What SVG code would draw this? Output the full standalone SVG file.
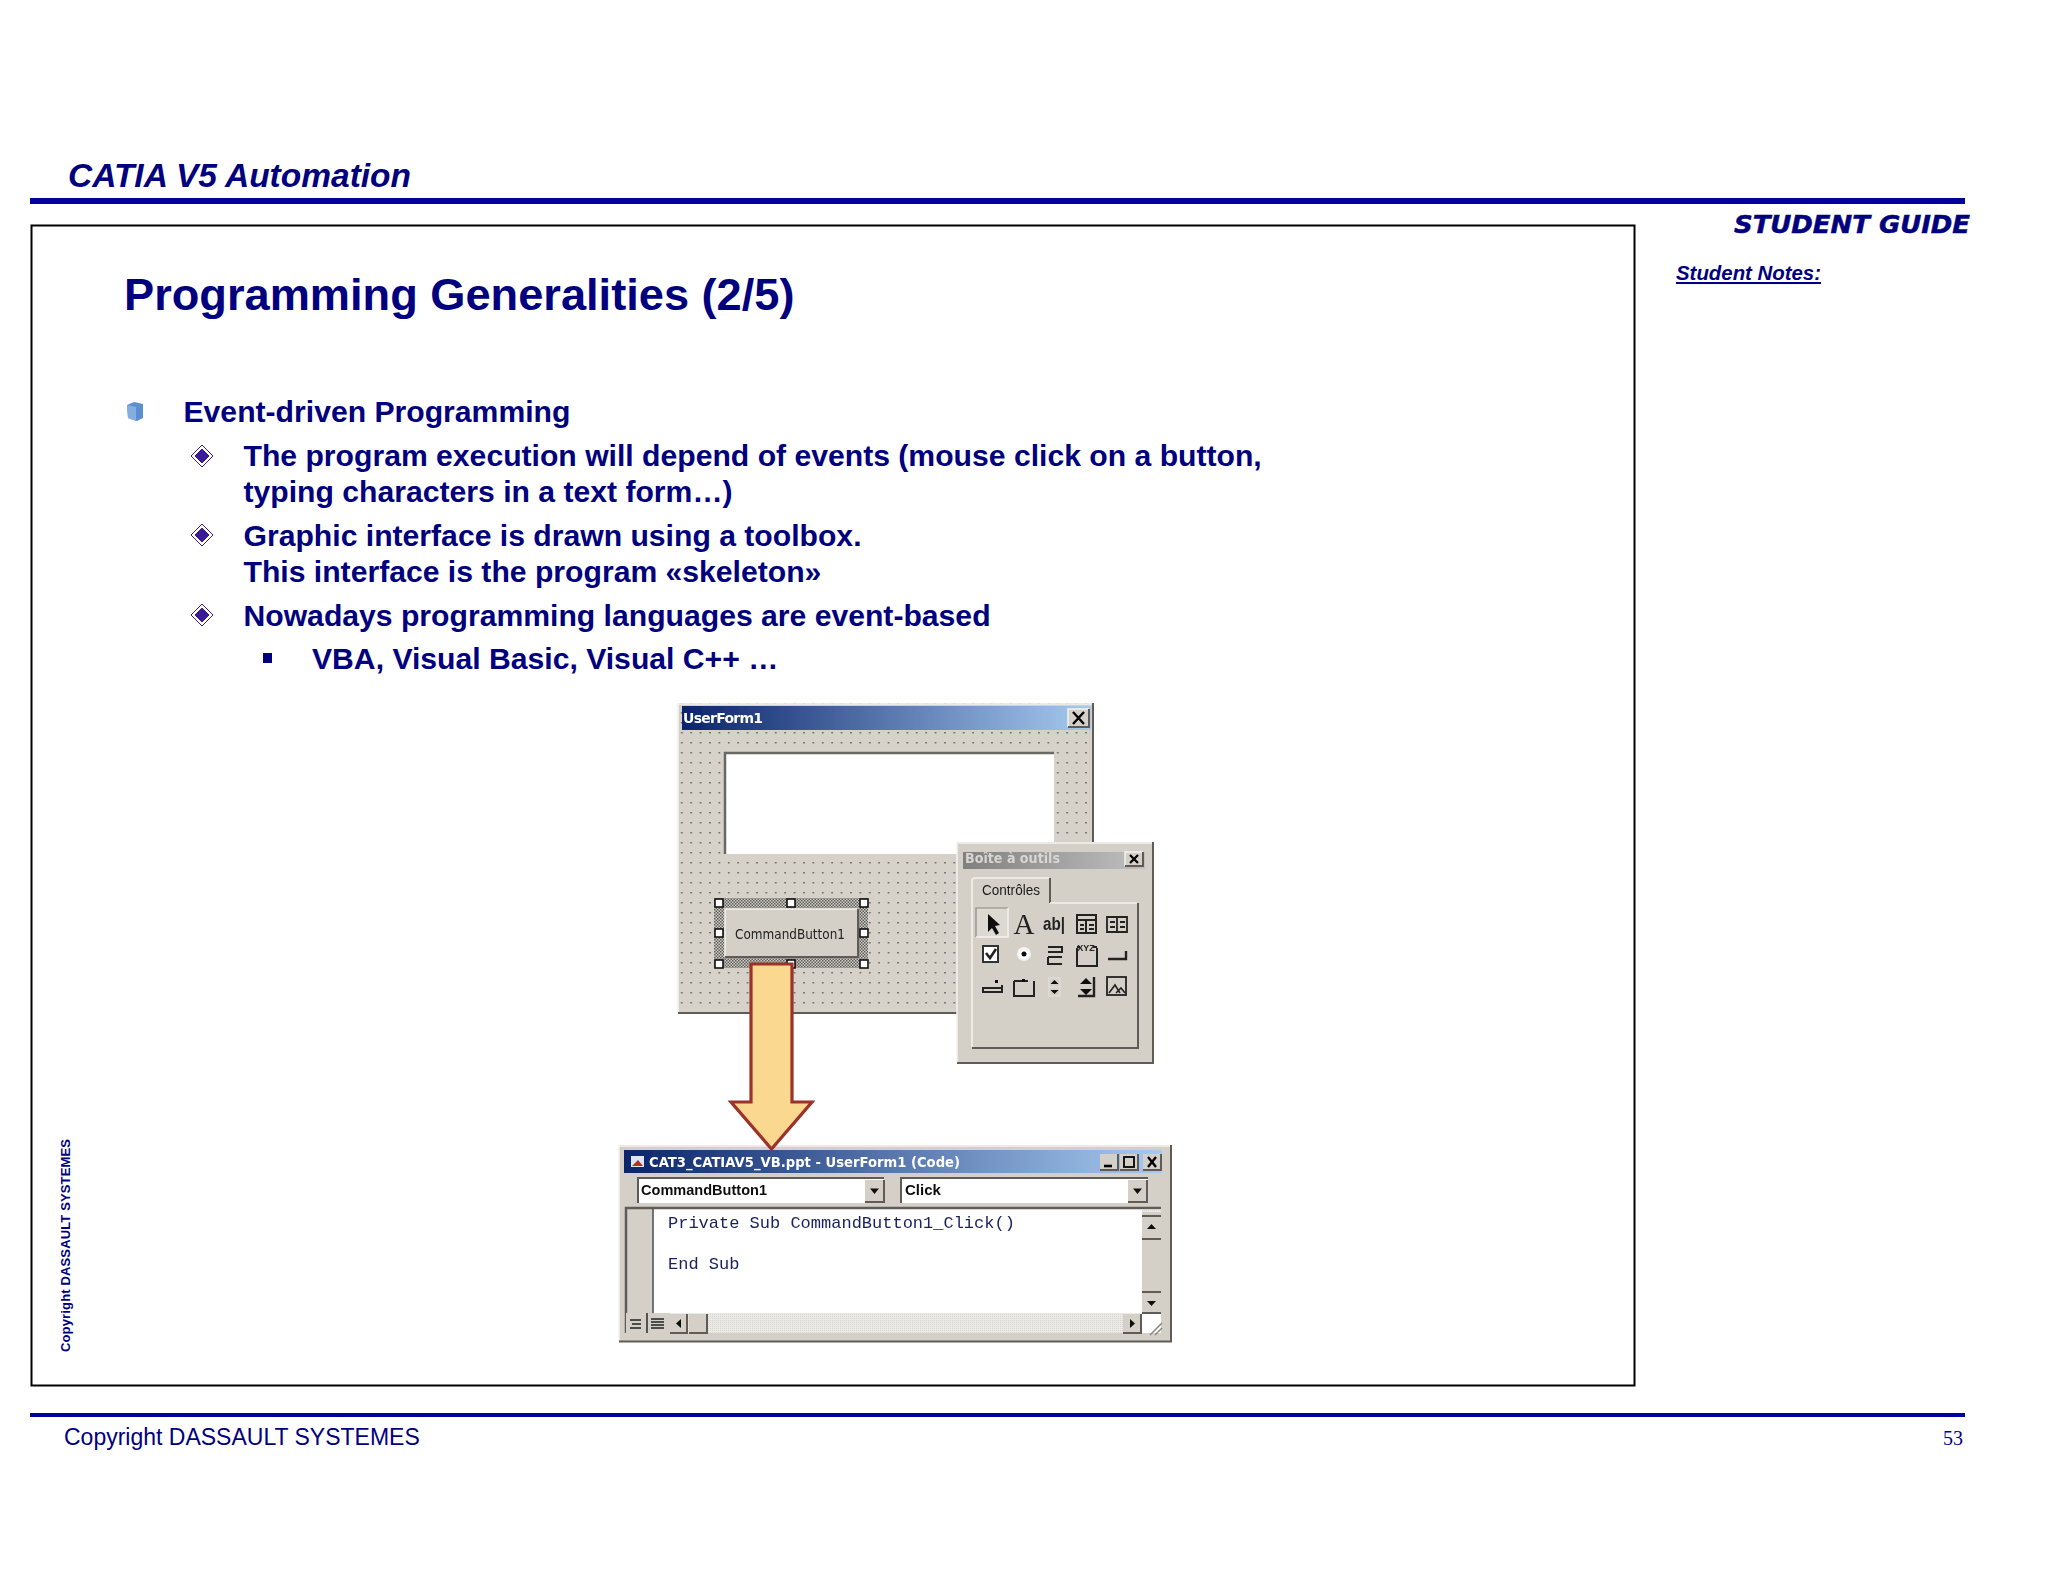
<svg xmlns="http://www.w3.org/2000/svg" width="2048" height="1582" viewBox="0 0 2048 1582">
<style>
text{font-family:"Liberation Sans",Arial,sans-serif}
.n{fill:#00007e;font-weight:700}
.b{font-size:30.150px}
.ui{font-family:"DejaVu Sans",sans-serif;font-weight:700}
.tb{font-size:15px;fill:#1c1c1c}
.code{font-family:"Liberation Mono",monospace;font-size:17px;fill:#1e2460}
.face{fill:#d4d0c8}
.hi{fill:none;stroke:#f4f2ee;stroke-width:1.5}
.lo{fill:none;stroke:#5f5c58;stroke-width:2}
.dk{fill:none;stroke:#333;stroke-width:1.6}
.ic{fill:none;stroke:#222;stroke-width:1.6}
.h{fill:#fff;stroke:#111;stroke-width:1.6}
.w{fill:#fff}
.shot{filter:url(#soft)}
</style>
<defs>
<filter id="soft" x="-2%" y="-2%" width="104%" height="104%"><feGaussianBlur stdDeviation="0.45"/></filter>
<pattern id="dots" width="9.4" height="10" patternUnits="userSpaceOnUse" x="678" y="709">
<rect width="9.4" height="10" fill="#d6d2ca"/><rect x="3" y="3" width="1.5" height="1.5" fill="#605e5a"/>
</pattern>
<pattern id="hatch" width="3" height="3" patternUnits="userSpaceOnUse">
<rect width="3" height="3" fill="#d0cdc6"/><rect width="1.500" height="1.500" fill="#5f5d59"/><rect x="1.500" y="1.500" width="1.500" height="1.500" fill="#5f5d59"/>
</pattern>
<pattern id="sb" width="2" height="2" patternUnits="userSpaceOnUse"><rect width="2" height="2" fill="#eceae6"/><rect width="1" height="1" fill="#d8d5cf"/></pattern>
<linearGradient id="tg1"><stop offset="0" stop-color="#0a246a"/><stop offset="1" stop-color="#a6caf0"/></linearGradient>
<linearGradient id="tg2"><stop offset="0" stop-color="#808080"/><stop offset="1" stop-color="#c0c0c0"/></linearGradient>
<path id="tri" d="M-4.500-2.500H4.500L0 3Z" fill="#111"/>
</defs>

<g id="header">
<text x="68" y="187" font-size="33.500" font-style="italic" font-weight="700" fill="#00007e">CATIA V5 Automation</text>
<rect x="30" y="198" width="1935" height="6" fill="#00009a"/>
<text x="1734" y="233" font-size="24" font-style="italic" font-weight="700" fill="#00007e" stroke="#00007e" stroke-width="0.5" style="font-family:'DejaVu Sans',sans-serif" textLength="236" lengthAdjust="spacingAndGlyphs">STUDENT GUIDE</text>
<text x="1676" y="280" font-size="20.400" font-style="italic" font-weight="700" fill="#00007e" text-decoration="underline">Student Notes:</text>
</g>

<rect id="slide-frame" x="31.500" y="225.500" width="1603" height="1160" fill="none" stroke="#000" stroke-width="2"/>

<g id="slide-text">
<text class="n" x="124" y="309.500" font-size="45.200">Programming Generalities (2/5)</text>
<text class="n b" x="183.500" y="422">Event-driven Programming</text>
<text class="n b" x="243.500" y="465.500">The program execution will depend of events (mouse click on a button,</text>
<text class="n b" x="243.500" y="501.500">typing characters in a text form…)</text>
<text class="n b" x="243.500" y="545.500">Graphic interface is drawn using a toolbox.</text>
<text class="n b" x="243.500" y="581.500">This interface is the program «skeleton»</text>
<text class="n b" x="243.500" y="625.500">Nowadays programming languages are event-based</text>
<text class="n b" x="312" y="669">VBA, Visual Basic, Visual C++ …</text>
</g>

<g id="bullets">
<path d="M127 405L134 402 143 404V418L137 421 128 418Z" fill="#5b8fd0"/><path d="M127 405L136 407V421L128 418Z" fill="#85aee0"/>
<g fill="#3c1c96" stroke="#fff" stroke-width="1">
<path d="M202 445L213 456 202 467 191 456Z" stroke="#3c1c96" fill="#fff"/><path d="M202 448L210 456 202 464 194 456Z"/>
<path d="M202 524L213 535 202 546 191 535Z" stroke="#3c1c96" fill="#fff"/><path d="M202 527L210 535 202 543 194 535Z"/>
<path d="M202 604L213 615 202 626 191 615Z" stroke="#3c1c96" fill="#fff"/><path d="M202 607L210 615 202 623 194 615Z"/>
</g>
<rect x="263" y="653" width="9" height="10" fill="#00007e"/>
</g>

<g id="userform" class="shot">
<rect x="678" y="703" width="415" height="311" fill="url(#dots)"/>
<path class="hi" d="M678 1013V704H1092"/><path class="lo" d="M678 1013H1093V703"/>
<rect x="682" y="706" width="409" height="24" fill="url(#tg1)"/>
<text class="ui" x="683" y="723" font-size="14" fill="#fff" textLength="80">UserForm1</text>
<rect x="1068" y="709" width="21" height="18" class="face"/><path class="hi" d="M1068 727V709H1089"/><path class="lo" d="M1068 727H1089V709"/>
<path d="M1073 712L1084 724M1084 712L1073 724" stroke="#000" stroke-width="2.400" fill="none"/>
<rect x="725" y="753" width="329" height="101" class="w"/>
<path d="M725 854V753H1054" fill="none" stroke="#6a6864" stroke-width="2.500"/>
<rect x="714" y="898" width="154" height="70" fill="url(#hatch)"/>
<rect x="725" y="909" width="133" height="48" class="face"/><path class="hi" d="M725 957V909H858"/><path class="lo" d="M725 957H858V909"/>
<text class="ui" x="735" y="939" font-size="14" style="font-weight:400" fill="#222" textLength="110" lengthAdjust="spacingAndGlyphs">CommandButton1</text>
<g>
<rect class="h" x="715" y="899" width="8" height="8"/><rect class="h" x="787" y="899" width="8" height="8"/><rect class="h" x="860" y="899" width="8" height="8"/>
<rect class="h" x="715" y="929" width="8" height="8"/><rect class="h" x="860" y="929" width="8" height="8"/>
<rect class="h" x="715" y="960" width="8" height="8"/><rect class="h" x="787" y="960" width="8" height="8"/><rect class="h" x="860" y="960" width="8" height="8"/>
</g>
</g>

<g id="toolbox" class="shot" transform="translate(-2 0)">
<rect x="959" y="842" width="196" height="221" class="face"/>
<path class="hi" d="M959 1062V843H1154"/><path class="lo" d="M959 1063H1155V842"/>
<rect x="965" y="852" width="182" height="17" fill="url(#tg2)"/>
<text class="ui" x="967" y="863" font-size="13.500" fill="#d8d6d0" textLength="95" lengthAdjust="spacingAndGlyphs">Boîte à outils</text>
<rect x="1127" y="852" width="18" height="14" class="face"/><path class="hi" d="M1127 866V852H1145"/><path class="lo" d="M1127 866H1145V852"/>
<path d="M1132 855L1140 863M1140 855L1132 863" stroke="#000" stroke-width="2.200"/>
<path class="hi" d="M974 1047V881Q974 878 977 878H1051"/>
<path class="lo" d="M1052 878V903"/>
<path class="hi" d="M1052 903H1139"/>
<path class="lo" d="M974 1048H1140V903"/>
<text class="tb" style="font-family:'Liberation Sans',sans-serif" x="984" y="895" textLength="58" lengthAdjust="spacingAndGlyphs">Contrôles</text>
<rect x="978" y="908" width="32" height="29" fill="#dcd9d2"/><path d="M978 937V908H1010" fill="none" stroke="#8a8781" stroke-width="1.200"/><path class="hi" d="M978 937H1010V908"/>
<path d="M990 914V932L994 928 998 935 1001 933 997 926 1002 925Z" fill="#111"/>
<text x="1026" y="934" font-size="29" text-anchor="middle" style="font-family:'Liberation Serif',serif" fill="#222">A</text>
<text x="1056" y="930" font-size="19" font-weight="700" text-anchor="middle" fill="#222" textLength="22" lengthAdjust="spacingAndGlyphs">ab|</text>
<g class="ic">
<path d="M1079 915H1098V933H1079ZM1079 920H1098M1088 920V933M1082 925H1086M1082 929H1086M1091 925H1096M1091 929H1096" stroke-width="2"/>
<path d="M1109 917H1129V932H1109ZM1119 917V932M1112 922H1117M1112 927H1117M1122 922H1127M1122 927H1127" stroke-width="1.800"/>
<rect x="985" y="946" width="15" height="16" fill="#fff" stroke="#333" stroke-width="2"/><path d="M988 953L992 958 998 949" stroke-width="2.600"/>
<circle cx="1026" cy="954" r="6" stroke="#f4f2ee" stroke-width="2" fill="#fff"/>
<path d="M1050 947H1064V952H1050M1050 957H1064M1050 957V964H1064" stroke-width="2"/>
<path d="M1079 948V966H1099V948M1095 947H1099M1079 947H1082" stroke-width="2"/>
<path d="M1110 959H1128V951" stroke-width="2.400"/>
<path d="M985 987V992H1004V985M985 988H1004" stroke-width="2"/>
<path d="M1016 981V996H1036V981M1016 981H1030" stroke-width="2"/>
<path d="M1051 978H1062V996H1051ZM1051 987H1062" stroke="#dedbd5"/>
<path d="M1096 977V996H1080" stroke-width="2.400"/>
<rect x="1109" y="977" width="19" height="18" stroke-width="1.800"/>
<path d="M1111 993L1117 985 1122 993M1118 993L1123 988 1127 993"/>
</g>
<circle cx="1026" cy="954" r="2.500" fill="#111"/>
<text x="1088" y="951" font-size="9" font-weight="700" text-anchor="middle" fill="#222">XYZ</text>
<path d="M1056.500 980l-4 4h8ZM1056.500 994l-4-4h8ZM1088 978l-6 6h12ZM1088 995l-6-6h12ZM1000 983h-3v-3h3ZM1027 979h-3v3h3Z" fill="#111"/>
</g>

<g id="code-window" class="shot">
<rect x="619" y="1145" width="552" height="197" class="face"/>
<path class="hi" d="M619 1341V1146H1170"/><path class="lo" d="M619 1341.500H1171V1145"/>
<rect x="624" y="1150" width="538" height="23" fill="url(#tg1)"/>
<rect x="631" y="1156" width="13" height="11" fill="#dfe6f2"/><path d="M632 1166L638 1160 643 1166Z" fill="#b03020"/>
<text class="ui" x="649" y="1167" font-size="14" fill="#fff" textLength="311" lengthAdjust="spacingAndGlyphs">CAT3_CATIAV5_VB.ppt - UserForm1 (Code)</text>
<g id="win-buttons">
<rect x="1100" y="1154" width="18" height="16" class="face"/><path class="lo" d="M1100 1170H1118V1154"/>
<rect x="1120" y="1154" width="18" height="16" class="face"/><path class="lo" d="M1120 1170H1138V1154"/>
<rect x="1143" y="1154" width="18" height="16" class="face"/><path class="lo" d="M1143 1170H1161V1154"/>
<path d="M1104 1166H1112" stroke="#000" stroke-width="2.600"/>
<rect x="1124" y="1157" width="10" height="10" fill="none" stroke="#000" stroke-width="1.800"/>
<path d="M1148 1157L1156 1167M1156 1157L1148 1167" stroke="#000" stroke-width="2.400"/>
</g>
<g id="combos">
<rect x="638" y="1178" width="246" height="25" class="w"/><path class="lo" d="M638 1203V1178H884"/>
<rect x="865" y="1180" width="19" height="22" class="face"/><path class="lo" d="M865 1202H884V1180"/><use href="#tri" x="874.500" y="1191"/>
<text x="641" y="1195" font-size="15" font-weight="700" fill="#111" textLength="126" lengthAdjust="spacingAndGlyphs">CommandButton1</text>
<rect x="901" y="1178" width="247" height="25" class="w"/><path class="lo" d="M901 1203V1178H1148"/>
<rect x="1128" y="1180" width="19" height="22" class="face"/><path class="lo" d="M1128 1202H1147V1180"/><use href="#tri" x="1137.500" y="1191"/>
<text x="905" y="1195" font-size="15" font-weight="700" fill="#111">Click</text>
</g>
<rect x="626" y="1208" width="535" height="125" class="w"/>
<rect x="626" y="1208" width="27" height="105" class="face"/>
<path d="M626 1333V1208H1161" fill="none" stroke="#5f5c58" stroke-width="2.500"/>
<path d="M653 1208V1313" fill="none" stroke="#555" stroke-width="1.600"/>
<text class="code" x="668" y="1228">Private Sub CommandButton1_Click()</text>
<text class="code" x="668" y="1269">End Sub</text>
<rect x="1142" y="1210" width="19" height="103" fill="url(#sb)"/>
<rect x="1142" y="1212" width="19" height="27" class="face"/><path class="lo" d="M1142 1216H1161M1142 1239H1161"/><path d="M1151.500 1224l4.500 5h-9Z" fill="#111"/>
<rect x="1142" y="1240" width="19" height="52" class="face"/><path class="lo" d="M1142 1292H1161"/>
<rect x="1142" y="1293" width="19" height="20" class="face"/><path class="lo" d="M1142 1313H1161"/><path d="M1147 1301h9l-4.500 5Z" fill="#111"/>
<rect x="653" y="1313" width="489" height="20" fill="url(#sb)"/>
<rect x="626" y="1313" width="44" height="20" class="face"/>
<path class="ic" d="M630 1320H641M632 1324H641M630 1328H641M651 1319H664M651 1322H664M651 1325H664M651 1328H664"/>
<path d="M647 1313V1333" class="dk"/>
<rect x="670" y="1314" width="17" height="19" class="face"/><path class="lo" d="M670 1333H687V1314"/><path d="M681 1319v9l-5-4.500Z" fill="#111"/>
<rect x="689" y="1314" width="18" height="19" class="face"/><path class="lo" d="M689 1333H707V1314"/>
<rect x="1123" y="1314" width="18" height="19" class="face"/><path class="lo" d="M1123 1333H1141V1314"/><path d="M1130 1319v9l5-4.500Z" fill="#111"/>
<path d="M1150 1335L1162 1323M1155 1335L1162 1328" stroke="#8a8781" stroke-width="1.500"/>
</g>

<g id="connectors">
<path id="arrow" d="M751 964H792V1102H812L771.500 1149 731 1102H751Z" fill="#fbd890" stroke="#9c3328" stroke-width="3.200" stroke-linejoin="miter"/>
</g>

<g id="footer">
<text x="70" y="1352" font-size="13" font-weight="700" fill="#00007e" transform="rotate(-90 70 1352)" textLength="213">Copyright DASSAULT SYSTEMES</text>
<rect x="30" y="1413" width="1935" height="4" fill="#00009a"/>
<text x="64" y="1445" font-size="23" fill="#00007e">Copyright DASSAULT SYSTEMES</text>
<text x="1963" y="1445" font-size="20" text-anchor="end" style="font-family:'Liberation Serif',serif" fill="#00007e">53</text>
</g>
</svg>
